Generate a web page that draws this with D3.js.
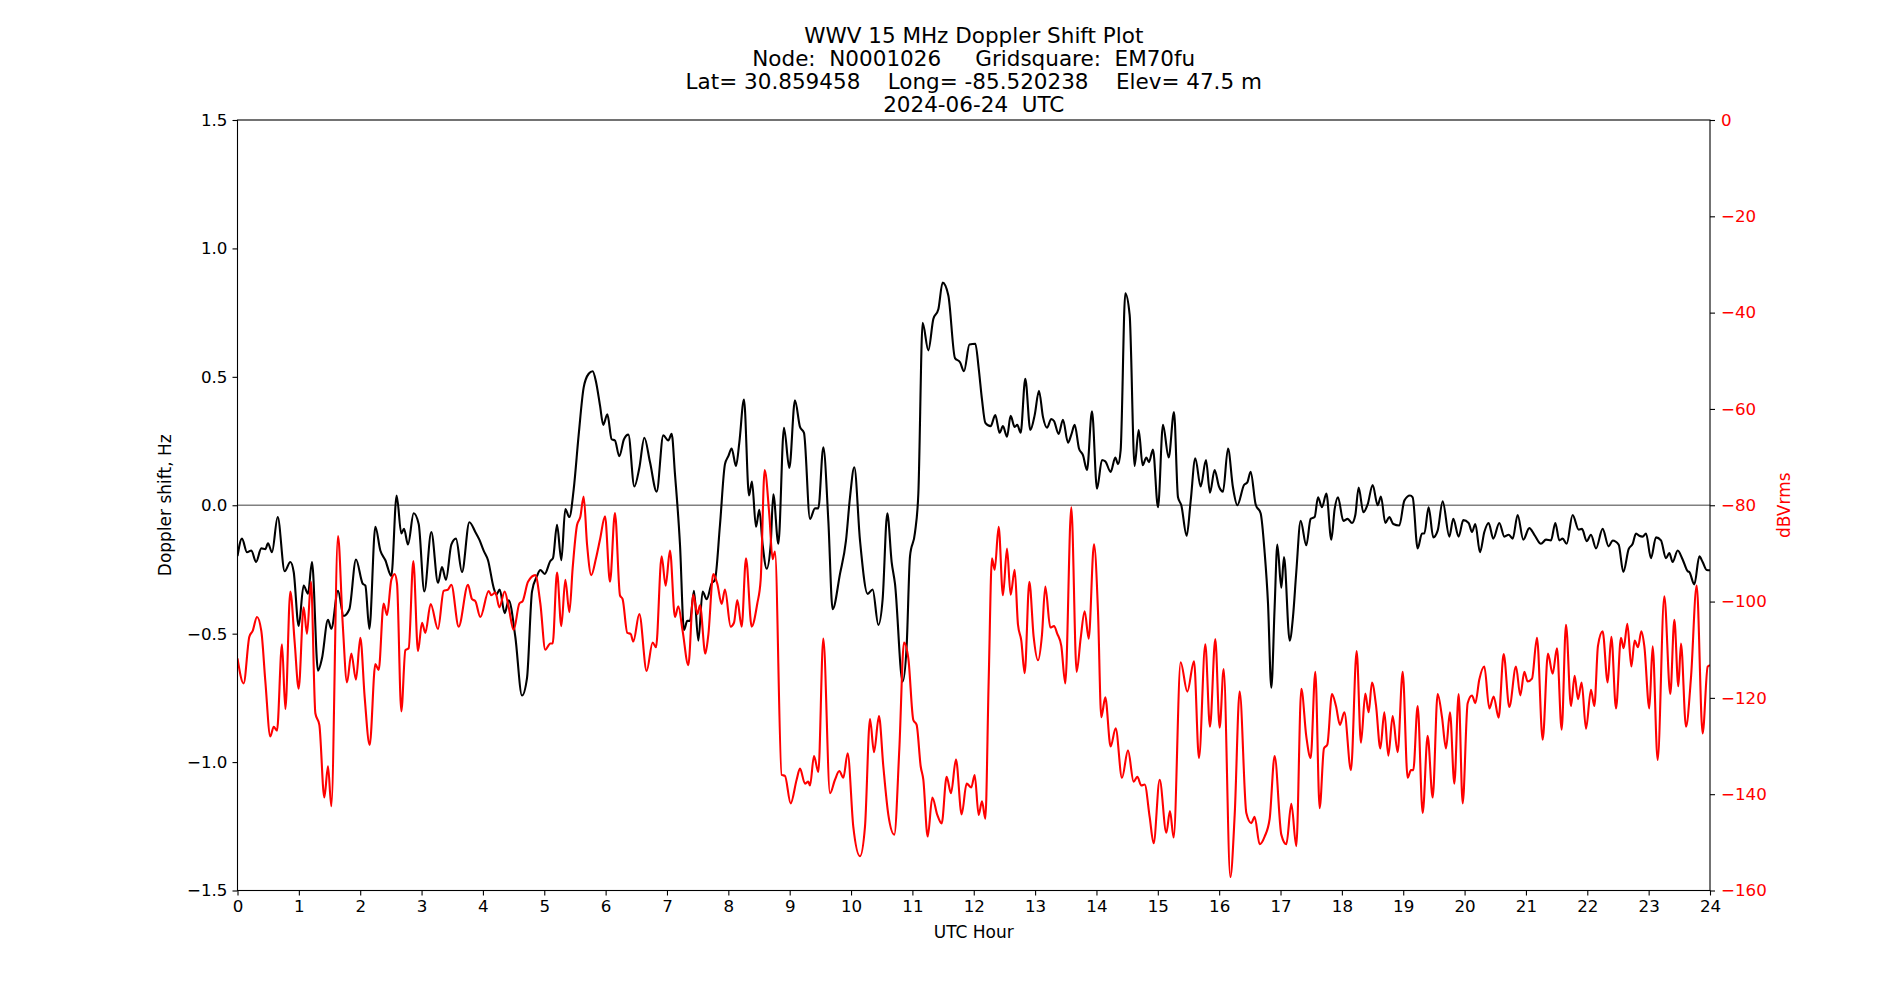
<!DOCTYPE html>
<html>
<head>
<meta charset="utf-8">
<script src="https://d3js.org/d3.v7.min.js"></script>
<style>
  body { margin: 0; background: #fff; }
  text { font-family: "DejaVu Sans", sans-serif; }
</style>
</head>
<body>
<div id="Vis"></div>
<script>
// title lines
var titleLines = [
  "WWV 15 MHz Doppler Shift Plot",
  "Node:  N0001026     Gridsquare:  EM70fu",
  "Lat= 30.859458    Long= -85.520238    Elev= 47.5 m",
  "2024-06-24  UTC"
];

// tick values
var hourTicks = d3.range(0, 25, 1);
var hzTicks = [-1.5, -1.0, -0.5, 0.0, 0.5, 1.0, 1.5];
var dbTicks = [0, -20, -40, -60, -80, -100, -120, -140, -160];

// doppler shift (black), hour / Hz
var dopplerHour = [0, 0.073, 0.155, 0.226, 0.302, 0.388, 0.454, 0.497, 0.562, 0.655, 0.769, 0.861, 0.916, 0.997,
  1.078, 1.149, 1.214, 1.312, 1.377, 1.475, 1.529, 1.638, 1.730, 1.823, 1.931, 2.040, 2.084, 2.149, 2.247, 2.328,
  2.410, 2.507, 2.594, 2.670, 2.714, 2.779, 2.871, 2.953, 3.045, 3.159, 3.268, 3.333, 3.398, 3.485, 3.561, 3.659,
  3.779, 3.876, 3.942, 4.012, 4.083, 4.175, 4.219, 4.273, 4.355, 4.420, 4.528, 4.637, 4.719, 4.800, 4.882, 4.936,
  5.007, 5.099, 5.142, 5.208, 5.278, 5.343, 5.409, 5.479, 5.561, 5.642, 5.724, 5.789, 5.843, 5.908, 5.962, 6.028,
  6.098, 6.152, 6.223, 6.299, 6.370, 6.468, 6.549, 6.631, 6.723, 6.832, 6.940, 7.022, 7.076, 7.130, 7.212, 7.277,
  7.331, 7.375, 7.440, 7.511, 7.581, 7.647, 7.728, 7.782, 7.864, 7.945, 8.000, 8.054, 8.125, 8.179, 8.255, 8.337,
  8.385, 8.451, 8.505, 8.559, 8.625, 8.690, 8.733, 8.815, 8.907, 8.994, 9.086, 9.168, 9.233, 9.331, 9.412, 9.467,
  9.548, 9.630, 9.700, 9.820, 9.918, 9.983, 10.053, 10.146, 10.271, 10.352, 10.445, 10.515, 10.591, 10.662, 10.716,
  10.841, 10.906, 10.961, 11.042, 11.097, 11.167, 11.260, 11.341, 11.423, 11.493, 11.586, 11.694, 11.776, 11.841,
  11.930, 12.026, 12.080, 12.134, 12.189, 12.275, 12.351, 12.422, 12.476, 12.542, 12.601, 12.667, 12.710, 12.764,
  12.840, 12.922, 12.993, 13.063, 13.128, 13.194, 13.264, 13.308, 13.384, 13.454, 13.536, 13.590, 13.645, 13.715,
  13.780, 13.846, 13.927, 14.009, 14.090, 14.144, 14.231, 14.307, 14.351, 14.394, 14.470, 14.541, 14.622, 14.688,
  14.753, 14.813, 14.856, 14.921, 15.003, 15.084, 15.177, 15.264, 15.329, 15.383, 15.470, 15.535, 15.611, 15.698,
  15.785, 15.850, 15.926, 15.997, 16.062, 16.144, 16.225, 16.296, 16.405, 16.459, 16.513, 16.595, 16.676, 16.741,
  16.796, 16.850, 16.904, 16.948, 17.013, 17.057, 17.149, 17.203, 17.257, 17.328, 17.420, 17.491, 17.556, 17.611,
  17.676, 17.747, 17.828, 17.882, 17.937, 18.024, 18.094, 18.165, 18.219, 18.273, 18.350, 18.420, 18.502, 18.583,
  18.637, 18.708, 18.773, 18.838, 18.936, 19.018, 19.110, 19.154, 19.235, 19.306, 19.344, 19.414, 19.490, 19.561,
  19.643, 19.751, 19.816, 19.903, 19.979, 20.066, 20.121, 20.175, 20.251, 20.322, 20.392, 20.468, 20.566, 20.648,
  20.718, 20.784, 20.865, 20.957, 21.055, 21.137, 21.245, 21.327, 21.408, 21.479, 21.544, 21.598, 21.664, 21.761,
  21.859, 21.914, 21.990, 22.060, 22.142, 22.250, 22.348, 22.413, 22.511, 22.587, 22.674, 22.740, 22.794, 22.848,
  22.902, 22.957, 23.038, 23.120, 23.201, 23.283, 23.337, 23.391, 23.473, 23.554, 23.636, 23.663, 23.745, 23.826,
  23.880, 23.946, 24.0];
var dopplerHz = [-0.198, -0.130, -0.183, -0.176, -0.221, -0.168, -0.171, -0.148, -0.183, -0.046, -0.257, -0.221, -0.260, -0.470,
  -0.313, -0.344, -0.221, -0.644, -0.596, -0.446, -0.481, -0.333, -0.431, -0.405, -0.211, -0.305, -0.313, -0.481, -0.084, -0.176,
  -0.214, -0.275, 0.038, -0.110, -0.092, -0.153, -0.031, -0.073, -0.336, -0.104, -0.302, -0.241, -0.290, -0.153, -0.130, -0.260,
  -0.066, -0.104, -0.134, -0.177, -0.214, -0.321, -0.348, -0.328, -0.420, -0.370, -0.512, -0.741, -0.672, -0.336, -0.275, -0.252,
  -0.267, -0.217, -0.206, -0.076, -0.214, -0.015, -0.046, 0.061, 0.275, 0.458, 0.512, 0.522, 0.481, 0.389, 0.313, 0.354,
  0.257, 0.252, 0.191, 0.257, 0.275, 0.073, 0.145, 0.263, 0.168, 0.053, 0.272, 0.252, 0.278, 0.122, -0.153, -0.486,
  -0.450, -0.450, -0.333, -0.527, -0.336, -0.366, -0.305, -0.290, -0.076, 0.160, 0.191, 0.221, 0.153, 0.244, 0.412, 0.038,
  0.092, -0.084, -0.018, -0.153, -0.247, -0.153, 0.043, -0.150, 0.302, 0.145, 0.409, 0.305, 0.282, -0.053, -0.012, -0.012,
  0.226, -0.061, -0.405, -0.267, -0.137, 0.031, 0.148, -0.137, -0.345, -0.328, -0.466, -0.366, -0.031, -0.221, -0.305,
  -0.687, -0.550, -0.199, -0.107, 0.046, 0.710, 0.603, 0.725, 0.763, 0.867, 0.817, 0.573, 0.557, 0.522,
  0.626, 0.629, 0.534, 0.412, 0.321, 0.308, 0.351, 0.282, 0.308, 0.267, 0.348, 0.305, 0.313, 0.282,
  0.492, 0.293, 0.351, 0.446, 0.344, 0.302, 0.336, 0.328, 0.278, 0.333, 0.244, 0.275, 0.313, 0.221,
  0.195, 0.137, 0.366, 0.064, 0.176, 0.171, 0.130, 0.186, 0.160, 0.214, 0.825, 0.741, 0.153, 0.293,
  0.156, 0.186, 0.168, 0.217, -0.008, 0.313, 0.186, 0.363, 0.031, 0.000, -0.119, 0.015, 0.183, 0.073,
  0.176, 0.049, 0.137, 0.073, 0.053, 0.221, 0.069, 0.000, 0.079, 0.089, 0.130, 0.003, -0.031, -0.183,
  -0.382, -0.710, -0.397, -0.153, -0.321, -0.202, -0.527, -0.435, -0.260, -0.061, -0.156, -0.053, -0.046, 0.031,
  -0.008, 0.046, -0.134, -0.015, 0.031, -0.061, -0.053, -0.069, -0.038, 0.069, -0.027, 0.003, 0.079, 0.000,
  0.034, -0.069, -0.046, -0.073, -0.079, 0.018, 0.038, 0.031, -0.168, -0.110, -0.110, -0.008, -0.125, -0.099,
  0.015, -0.122, -0.053, -0.122, -0.058, -0.069, -0.104, -0.073, -0.183, -0.104, -0.069, -0.130, -0.069, -0.122,
  -0.115, -0.130, -0.038, -0.134, -0.089, -0.115, -0.150, -0.134, -0.137, -0.069, -0.137, -0.130, -0.150, -0.038,
  -0.095, -0.092, -0.140, -0.115, -0.168, -0.092, -0.160, -0.137, -0.153, -0.260, -0.171, -0.150, -0.110, -0.119,
  -0.122, -0.110, -0.206, -0.125, -0.137, -0.206, -0.186, -0.221, -0.176, -0.211, -0.257, -0.260, -0.308, -0.199,
  -0.221, -0.252, -0.253];

// signal level (red), hour / dBVrms
var levelHour = [0, 0.100, 0.193, 0.247, 0.318, 0.388, 0.454, 0.535, 0.590, 0.644, 0.725, 0.780, 0.861, 0.932, 0.997,
  1.078, 1.133, 1.198, 1.269, 1.334, 1.415, 1.475, 1.529, 1.638, 1.714, 1.785, 1.855, 1.931, 2.002, 2.073, 2.154,
  2.247, 2.301, 2.382, 2.437, 2.507, 2.562, 2.600, 2.670, 2.736, 2.790, 2.866, 2.942, 3.007, 3.062, 3.148, 3.268,
  3.360, 3.431, 3.485, 3.605, 3.757, 3.822, 3.876, 3.958, 4.094, 4.137, 4.203, 4.268, 4.355, 4.420, 4.501, 4.594,
  4.648, 4.735, 4.854, 4.936, 5.017, 5.099, 5.137, 5.208, 5.278, 5.343, 5.409, 5.463, 5.534, 5.588, 5.642, 5.697,
  5.767, 5.843, 5.910, 5.990, 6.071, 6.152, 6.234, 6.277, 6.353, 6.408, 6.451, 6.549, 6.669, 6.766, 6.821, 6.913,
  6.978, 7.049, 7.130, 7.185, 7.255, 7.348, 7.429, 7.495, 7.538, 7.625, 7.674, 7.755, 7.820, 7.891, 7.945, 8.038,
  8.092, 8.146, 8.217, 8.288, 8.380, 8.472, 8.527, 8.592, 8.668, 8.722, 8.760, 8.869, 8.923, 9.016, 9.113, 9.168,
  9.249, 9.304, 9.331, 9.396, 9.467, 9.548, 9.657, 9.738, 9.809, 9.874, 9.945, 10.037, 10.146, 10.227, 10.309,
  10.374, 10.455, 10.526, 10.608, 10.705, 10.787, 10.863, 10.934, 11.015, 11.069, 11.135, 11.178, 11.249, 11.325,
  11.406, 11.477, 11.558, 11.629, 11.710, 11.803, 11.884, 11.960, 12.015, 12.080, 12.134, 12.189, 12.243, 12.297,
  12.341, 12.406, 12.476, 12.542, 12.601, 12.667, 12.721, 12.775, 12.830, 12.906, 12.976, 13.047, 13.112, 13.166,
  13.248, 13.308, 13.362, 13.427, 13.492, 13.590, 13.677, 13.742, 13.808, 13.873, 13.960, 14.025, 14.079, 14.144,
  14.231, 14.313, 14.416, 14.514, 14.606, 14.666, 14.731, 14.786, 14.867, 14.932, 15.030, 15.139, 15.198, 15.258,
  15.372, 15.481, 15.590, 15.671, 15.774, 15.850, 15.937, 16.008, 16.073, 16.182, 16.253, 16.334, 16.443, 16.524,
  16.578, 16.660, 16.741, 16.823, 16.904, 17.013, 17.095, 17.176, 17.257, 17.339, 17.420, 17.491, 17.567, 17.638,
  17.708, 17.763, 17.839, 17.904, 17.969, 18.040, 18.148, 18.241, 18.311, 18.382, 18.436, 18.491, 18.556, 18.627,
  18.692, 18.757, 18.828, 18.909, 18.991, 19.072, 19.126, 19.164, 19.235, 19.317, 19.398, 19.480, 19.561, 19.632,
  19.697, 19.762, 19.833, 19.903, 19.969, 20.050, 20.121, 20.175, 20.240, 20.322, 20.403, 20.474, 20.555, 20.637,
  20.729, 20.838, 20.908, 20.974, 21.028, 21.099, 21.180, 21.273, 21.359, 21.435, 21.506, 21.582, 21.653, 21.734,
  21.794, 21.848, 21.908, 21.979, 22.060, 22.115, 22.174, 22.250, 22.332, 22.392, 22.468, 22.549, 22.593, 22.653,
  22.718, 22.772, 22.826, 22.881, 22.930, 23.011, 23.065, 23.147, 23.255, 23.353, 23.419, 23.484, 23.527, 23.609,
  23.690, 23.783, 23.880, 23.962, 24.0];
var levelDb = [-111.8, -117.0, -107.3, -106.1, -103.2, -106.1, -116.6, -128.0, -126.0, -126.8, -108.9, -122.3, -97.9, -108.5, -118.1,
  -101.2, -106.7, -95.9, -123.2, -125.6, -140.7, -134.2, -142.5, -86.4, -104.4, -116.8, -110.8, -116.2, -107.5, -119.9, -129.8,
  -113.0, -114.2, -100.4, -102.8, -95.5, -94.3, -96.3, -122.8, -110.1, -109.7, -91.6, -110.3, -104.4, -106.5, -100.5, -105.7,
  -97.8, -97.5, -96.5, -105.2, -96.5, -99.5, -99.9, -103.2, -97.8, -98.7, -98.1, -101.2, -97.9, -101.2, -105.9, -100.4,
  -99.9, -95.9, -94.5, -100.4, -110.0, -108.7, -108.7, -94.0, -105.1, -95.5, -102.2, -93.0, -84.1, -82.4, -78.2, -88.1,
  -94.5, -91.0, -87.0, -82.3, -95.9, -81.6, -98.7, -99.5, -106.5, -106.7, -108.3, -102.6, -114.4, -108.5, -109.5, -90.6,
  -96.7, -89.4, -103.2, -101.0, -106.1, -113.2, -98.6, -102.6, -100.8, -110.8, -106.9, -94.3, -96.3, -100.5, -97.5, -105.2,
  -104.4, -99.7, -105.2, -91.0, -105.2, -100.4, -95.5, -72.7, -82.0, -91.2, -89.6, -136.0, -136.2, -141.9, -137.0, -134.7,
  -137.8, -137.4, -138.2, -132.1, -135.4, -107.7, -139.8, -137.0, -135.2, -136.6, -131.5, -146.8, -152.9, -146.8, -124.4,
  -131.3, -123.8, -134.2, -144.3, -148.4, -130.6, -108.5, -111.8, -124.6, -125.6, -134.2, -137.0, -148.8, -140.7,
  -144.3, -146.1, -136.4, -139.8, -132.8, -144.2, -137.8, -138.6, -136.0, -144.3, -141.5, -145.1, -116.6, -91.0,
  -93.4, -84.5, -98.7, -89.0, -98.6, -93.4, -104.8, -108.1, -114.9, -95.9, -107.3, -112.2, -106.9, -96.9,
  -105.4, -105.1, -106.7, -109.2, -117.0, -80.4, -114.6, -107.7, -102.0, -107.7, -88.1, -102.0, -124.0, -119.9,
  -130.1, -126.3, -136.6, -130.9, -137.4, -136.4, -138.2, -138.0, -144.7, -150.2, -137.0, -148.0, -143.5, -149.0,
  -112.6, -118.7, -112.4, -132.5, -108.9, -126.0, -107.8, -126.2, -114.0, -157.2, -144.3, -118.7, -143.9, -146.0,
  -144.7, -150.4, -148.8, -145.1, -132.1, -148.4, -150.4, -142.0, -150.8, -118.1, -128.0, -132.5, -114.6, -142.9,
  -130.5, -129.7, -119.2, -121.7, -125.6, -123.0, -135.0, -110.3, -129.3, -119.1, -123.0, -116.8, -121.5, -130.5,
  -123.0, -132.0, -123.8, -131.3, -114.6, -136.6, -135.0, -135.0, -121.7, -143.9, -127.9, -140.7, -119.2, -124.0,
  -130.5, -123.0, -137.8, -119.2, -141.9, -121.1, -119.5, -121.1, -116.2, -113.5, -122.2, -119.7, -124.1, -110.9,
  -121.9, -113.5, -119.5, -114.6, -116.6, -116.0, -107.5, -128.7, -110.8, -115.0, -109.7, -126.6, -104.8, -121.7,
  -115.4, -120.3, -116.8, -126.4, -118.3, -121.7, -109.2, -106.2, -116.8, -107.3, -122.2, -107.5, -109.7, -104.6,
  -113.5, -108.1, -109.5, -106.2, -109.3, -122.2, -109.3, -132.9, -98.9, -119.2, -103.8, -117.6, -108.7, -126.0,
  -115.8, -96.7, -127.4, -113.5, -113.2];

// set the dimensions and margins of the graph
var margin = {top: 120, right: 190, bottom: 109.5, left: 237.5},
    width = 1900 - margin.left - margin.right,
    height = 1000 - margin.top - margin.bottom;

var root = d3.select("#Vis")
  .append("svg")
    .attr("width", 1900)
    .attr("height", 1000);

var svg = root.append("g")
    .attr("transform", "translate(" + margin.left + "," + margin.top + ")");

// scales
var x = d3.scaleLinear().domain([0, 24]).range([0, width]);
var y = d3.scaleLinear().domain([-1.5, 1.5]).range([height, 0]);
var y2 = d3.scaleLinear().domain([-160, 0]).range([height, 0]);

// X axis
var xAxis = svg.append("g")
  .attr("transform", "translate(0," + height + ")")
  .call(d3.axisBottom(x).tickValues(hourTicks).tickFormat(d3.format("d"))
    .tickSize(5).tickPadding(5).tickSizeOuter(0));

// left Y axis
var yAxis = svg.append("g")
  .call(d3.axisLeft(y).tickValues(hzTicks).tickFormat(d3.format(".1f"))
    .tickSize(5).tickPadding(5).tickSizeOuter(0));

// right Y axis, red labels
var yAxis2 = svg.append("g")
  .attr("transform", "translate(" + width + ",0)")
  .call(d3.axisRight(y2).tickValues(dbTicks).tickFormat(d3.format("d"))
    .tickSize(5).tickPadding(6).tickSizeOuter(0));
yAxis2.selectAll("text").attr("fill", "red");

svg.selectAll(".domain").remove();
svg.selectAll(".tick line").attr("stroke", "#000").attr("stroke-width", 1.1);
svg.selectAll(".tick text").attr("font-size", "16.7px").attr("font-family", "DejaVu Sans");

// zero line
svg.append("line")
  .attr("x1", 0).attr("x2", width)
  .attr("y1", y(0)).attr("y2", y(0))
  .attr("stroke", "#808080")
  .attr("stroke-width", 1.3);

// clip everything to the plot area
svg.append("defs").append("clipPath")
    .attr("id", "clip")
  .append("rect")
    .attr("width", width)
    .attr("height", height);

var plot = svg.append("g").attr("clip-path", "url(#clip)");

var dopplerData = dopplerHour.map(function(h, i) { return [h, dopplerHz[i]]; });
var levelData = levelHour.map(function(h, i) { return [h, levelDb[i]]; });

// doppler line
plot.append("path")
  .datum(dopplerData)
  .attr("fill", "none")
  .attr("stroke", "black")
  .attr("stroke-width", 2.1)
  .attr("stroke-linejoin", "round")
  .attr("d", d3.line()
    .curve(d3.curveMonotoneX)
    .x(function(d) { return x(d[0]); })
    .y(function(d) { return y(d[1]); }));

// level line
plot.append("path")
  .datum(levelData)
  .attr("fill", "none")
  .attr("stroke", "red")
  .attr("stroke-width", 2.1)
  .attr("stroke-linejoin", "round")
  .attr("d", d3.line()
    .curve(d3.curveMonotoneX)
    .x(function(d) { return x(d[0]); })
    .y(function(d) { return y2(d[1]); }));

// frame
svg.append("rect")
  .attr("width", width)
  .attr("height", height)
  .attr("fill", "none")
  .attr("stroke", "black")
  .attr("stroke-width", 1.1);

// axis labels
svg.append("text")
  .attr("x", width / 2)
  .attr("y", height + 47)
  .attr("text-anchor", "middle")
  .attr("font-size", "17px")
  .text("UTC Hour");

svg.append("text")
  .attr("transform", "translate(" + (171 - margin.left) + "," + (height / 2) + ") rotate(-90)")
  .attr("text-anchor", "middle")
  .attr("font-size", "17px")
  .text("Doppler shift, Hz");

svg.append("text")
  .attr("transform", "translate(" + (1790 - margin.left) + "," + (height / 2) + ") rotate(-90)")
  .attr("text-anchor", "middle")
  .attr("font-size", "17px")
  .attr("fill", "red")
  .text("dBVrms");

// title
root.append("g")
  .selectAll("text")
  .data(titleLines)
  .enter().append("text")
    .attr("x", margin.left + width / 2)
    .attr("y", function(d, i) { return 43 + i * 23; })
    .attr("text-anchor", "middle")
    .attr("font-size", "21.5px")
    .style("white-space", "pre")
    .attr("xml:space", "preserve")
    .text(function(d) { return d; });
</script>
</body>
</html>
